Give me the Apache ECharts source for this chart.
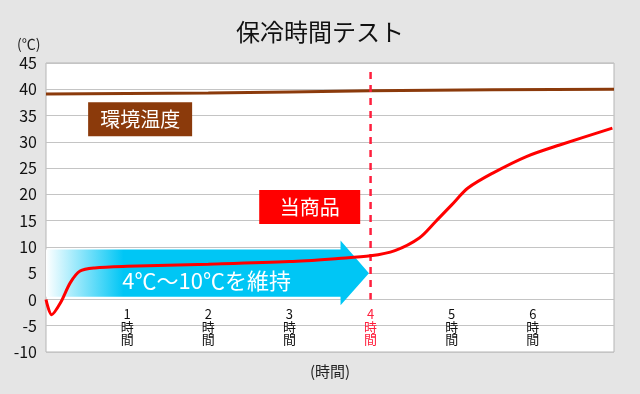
<!DOCTYPE html>
<html>
<head>
<meta charset="utf-8">
<script src="https://cdn.jsdelivr.net/npm/echarts@6/dist/echarts.min.js"></script>
<style>
  html, body { margin: 0; padding: 0; background: #e5e5e5; }
  #main { width: 640px; height: 394px; }
</style>
</head>
<body>
<div id="main"></div>
<script>
// 時間 (h) / 温度 (℃)
var hourTicks = [1, 2, 3, 4, 5, 6];
var highlightHour = 4;

// 環境温度
var ambient = [[0, 39.1], [2, 39.3], [4, 39.7], [5.5, 39.9], [7, 40.0]];

// 当商品
var product = [
  [0, 0], [0.07, -2.9], [0.18, -0.6], [0.3, 3.2], [0.42, 5.4], [0.6, 6.0],
  [1, 6.3], [2, 6.7], [3, 7.2], [3.6, 7.8], [4, 8.3], [4.3, 9.3],
  [4.6, 11.7], [4.8, 14.8], [5, 18.0], [5.2, 21.2], [5.5, 24.0],
  [5.92, 27.2], [6.33, 29.4], [6.98, 32.6]
];

// 4時間ライン
var markerLine = [[4, 43.3], [4, 0]];

// 矢印 (4℃〜10℃を維持)
var arrowX = [0, 3.63, 3.98];      // 始点, 矢じり開始, 先端
var arrowBody = [0.5, 9.5];
var arrowHead = [-1.1, 11.2];
var arrowTip = 5.0;
var arrowText = '4℃〜10℃を維持';
var arrowTextPos = [1.98, 3.6];

var font = "'Noto Sans CJK JP', 'Noto Sans', sans-serif";

var myChart = echarts.init(document.getElementById('main'));

var option = {
  backgroundColor: '#e5e5e5',
  textStyle: { fontFamily: font },
  title: [
    { text: '保冷時間テスト', left: 'center', top: 15,
      textStyle: { fontSize: 24, fontWeight: 'normal', color: '#111', fontFamily: font } },
    { text: '(℃)', left: 12, top: 32,
      textStyle: { fontSize: 14, fontWeight: 'normal', color: '#222', fontFamily: font } },
    { text: '(時間)', left: 305, top: 359,
      textStyle: { fontSize: 15, fontWeight: 'normal', color: '#222', fontFamily: font } }
  ],
  grid: {
    left: 46, right: 26, top: 63, bottom: 42,
    outerBoundsMode: 'none',
    show: true, backgroundColor: '#fff', borderColor: '#b5b5b5', borderWidth: 1
  },
  xAxis: {
    type: 'value', min: 0, max: 7, interval: 1,
    axisLine: { show: false, onZero: false },
    axisTick: { show: false },
    splitLine: { show: false },
    axisLabel: {
      // 0℃ の線の下に表示
      margin: -44, fontSize: 13, lineHeight: 12.5, fontFamily: font,
      verticalAlign: 'top',
      color: function (v) { return Number(v) == highlightHour ? '#ff1f3d' : '#111'; },
      formatter: function (v) {
        return hourTicks.indexOf(v) >= 0 ? v + '\n時\n間' : '';
      }
    }
  },
  yAxis: {
    type: 'value', min: -10, max: 45, interval: 5,
    axisLine: { show: false, onZero: false },
    axisTick: { show: false },
    splitLine: { lineStyle: { color: '#c4c4c4', width: 1 } },
    axisLabel: { fontSize: 16, color: '#111', margin: 9, fontFamily: font }
  },
  series: [
    {
      type: 'custom',
      name: 'arrow',
      z: 1,
      silent: true,
      data: [[0, 0]],
      renderItem: function (params, api) {
        var p1 = api.coord([arrowX[0], arrowBody[1]]);
        var p2 = api.coord([arrowX[1], arrowBody[1]]);
        var p3 = api.coord([arrowX[1], arrowHead[1]]);
        var p4 = api.coord([arrowX[2], arrowTip]);
        var p5 = api.coord([arrowX[1], arrowHead[0]]);
        var p6 = api.coord([arrowX[1], arrowBody[0]]);
        var p7 = api.coord([arrowX[0], arrowBody[0]]);
        var t = api.coord(arrowTextPos);
        return {
          type: 'group',
          children: [
            {
              type: 'polygon',
              shape: { points: [p1, p2, p3, p4, p5, p6, p7] },
              style: {
                fill: new echarts.graphic.LinearGradient(0, 0, 1, 0, [
                  { offset: 0, color: 'rgba(255,255,255,1)' },
                  { offset: 0.24, color: '#00c6f5' },
                  { offset: 1, color: '#00c6f5' }
                ])
              }
            },
            {
              type: 'text',
              style: {
                text: arrowText, x: t[0], y: t[1],
                align: 'center', verticalAlign: 'middle',
                fill: '#fff', font: '22px ' + font
              }
            }
          ]
        };
      }
    },
    {
      type: 'line',
      name: '環境温度',
      data: ambient,
      z: 3,
      symbol: 'none',
      smooth: true,
      lineStyle: { color: '#8b3a0b', width: 3 },
      markPoint: {
        symbol: 'rect',
        symbolSize: [104, 34],
        itemStyle: { color: '#8b3a0b' },
        label: { show: true, color: '#fff', fontSize: 20, fontFamily: font, formatter: '環境温度' },
        data: [{ coord: [1.16, 34.3] }]
      }
    },
    {
      type: 'line',
      name: '4時間',
      data: markerLine,
      z: 4,
      symbol: 'none',
      lineStyle: { color: '#ff1f3d', width: 2.5, type: [7, 6] }
    },
    {
      type: 'line',
      name: '当商品',
      data: product,
      z: 5,
      symbol: 'none',
      smooth: 0.3,
      lineStyle: { color: '#ff0000', width: 3 },
      markPoint: {
        symbol: 'rect',
        symbolSize: [101, 34],
        itemStyle: { color: '#ff0000' },
        label: { show: true, color: '#fff', fontSize: 20, fontFamily: font, formatter: '当商品' },
        data: [{ coord: [3.25, 17.6] }]
      }
    }
  ]
};

myChart.setOption(option);
</script>
</body>
</html>
